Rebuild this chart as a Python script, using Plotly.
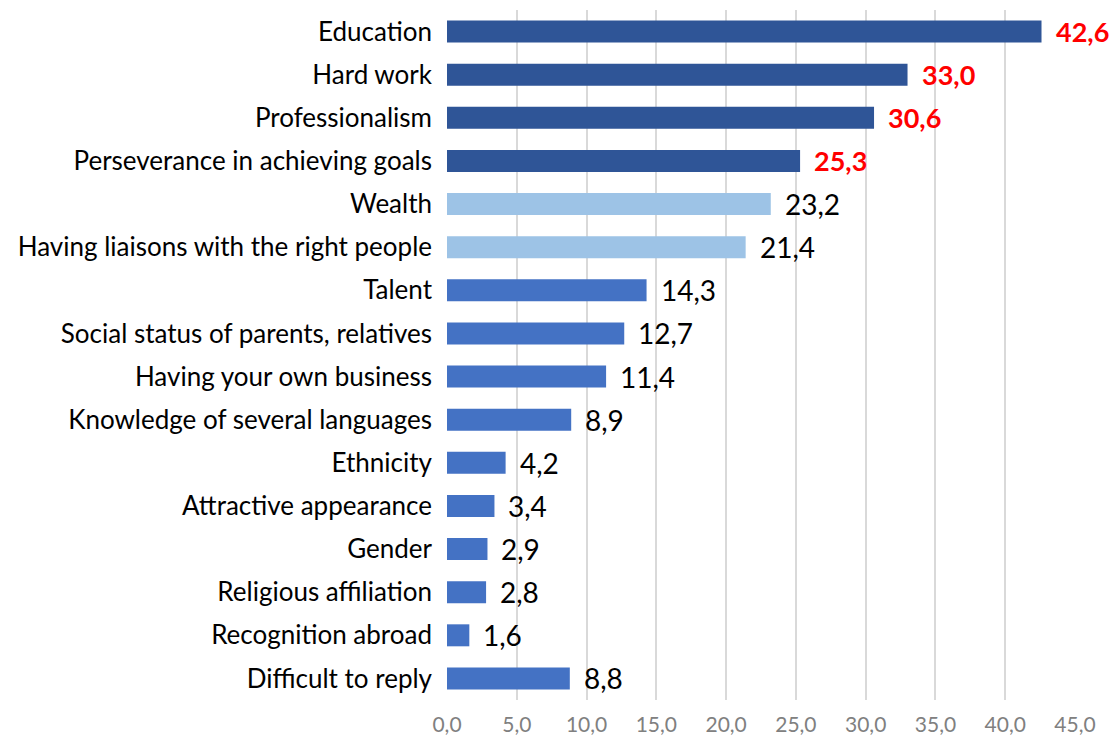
import plotly.graph_objects as go

categories = ["Education", "Hard work", "Professionalism", "Perseverance in achieving goals",
              "Wealth", "Having liaisons with the right people", "Talent",
              "Social status of parents, relatives", "Having your own business",
              "Knowledge of several languages", "Ethnicity", "Attractive appearance",
              "Gender", "Religious affiliation", "Recognition abroad", "Difficult to reply"]
values = [42.6, 33.0, 30.6, 25.3, 23.2, 21.4, 14.3, 12.7, 11.4, 8.9, 4.2, 3.4, 2.9, 2.8, 1.6, 8.8]
groups = ["top"] * 4 + ["light"] * 2 + ["mid"] * 10
tick_vals = [0, 5, 10, 15, 20, 25, 30, 35, 40, 45]

bar_colors = {"top": "#2F5597", "light": "#9DC3E6", "mid": "#4472C4"}
FONT = "Lato"

fig = go.Figure()
fig.add_trace(go.Bar(
    y=categories, x=values, orientation="h",
    marker=dict(color=[bar_colors[g] for g in groups], line=dict(width=0)),
    hoverinfo="skip",
))

for c, v, g in zip(categories, values, groups):
    top = g == "top"
    fig.add_annotation(
        x=v, y=c, xref="x", yref="y",
        text=(f"<b>{v:.1f}</b>" if top else f"{v:.1f}").replace(".", ","),
        showarrow=False, xanchor="left", xshift=12,
        font=dict(family=FONT, size=27 if top else 28, color="#FF0000" if top else "#000000"),
    )

fig.update_layout(
    width=1115, height=740,
    margin=dict(l=447, r=40, t=10, b=40, autoexpand=False),
    paper_bgcolor="white", plot_bgcolor="white",
    separators=", ",
    bargap=0.49,
    showlegend=False,
    font=dict(family=FONT, color="#000000"),
)
fig.update_xaxes(
    range=[0, 45], tickvals=tick_vals, tickformat=".1f",
    showgrid=True, gridcolor="#D9D9D9", gridwidth=2,
    zeroline=False, showline=False,
    tickfont=dict(family=FONT, size=21, color="#808080"),
    ticks="", fixedrange=True, ticklabelstandoff=10,
)
fig.update_yaxes(
    autorange="reversed", showgrid=False, showline=False, ticks="",
    tickfont=dict(family=FONT, size=26, color="#000000"),
    ticklabelstandoff=14, fixedrange=True,
)

fig.write_html("out.html", config={"displayModeBar": False, "staticPlot": True},
               post_script="document.body.style.margin='0';document.body.style.overflow='hidden';")
